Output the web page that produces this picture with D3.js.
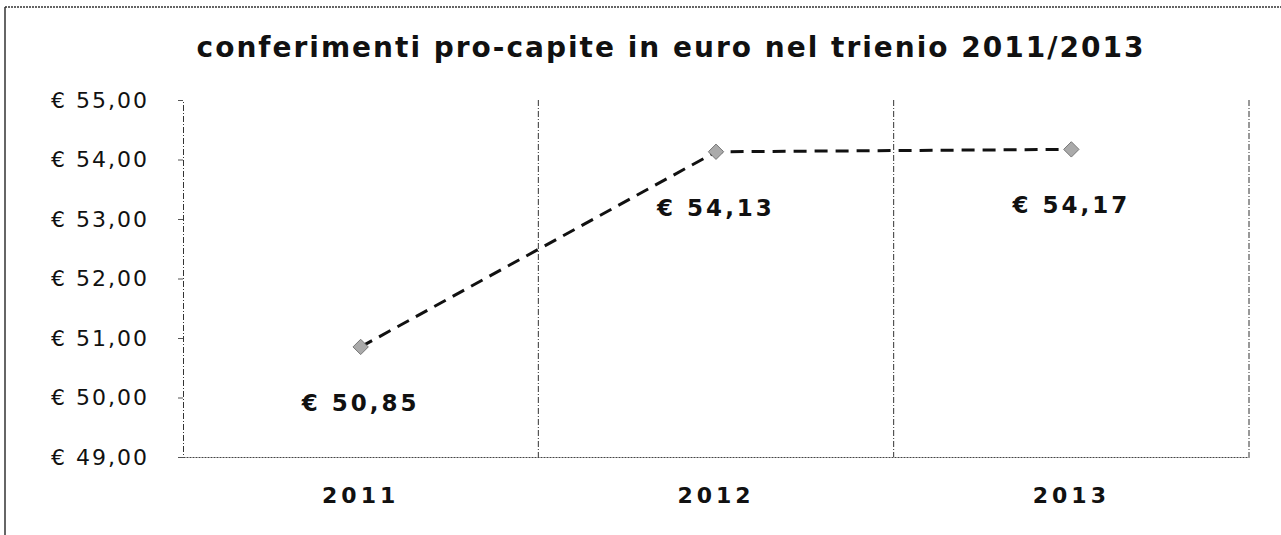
<!DOCTYPE html>
<html>
<head>
<meta charset="utf-8">
<script src="https://cdn.jsdelivr.net/npm/d3@7"></script>
<style>
  body { margin: 0; background: #fff; }
  text { font-family: "DejaVu Sans", Verdana, sans-serif; fill: #111; }
</style>
</head>
<body>
<div id="chart"></div>
<script>
// data
const years = ["2011", "2012", "2013"];
const values = [50.85, 54.13, 54.17];
const yTicks = [49, 50, 51, 52, 53, 54, 55];
const title = "conferimenti pro-capite in euro nel trienio 2011/2013";

const w = 1281, h = 535;
const mLeft = 183, mRight = 1249, mTop = 100, mBottom = 457;

const fmt = v => "€ " + d3.format(".2f")(v).replace(".", ",");

const svg = d3.select("#chart").append("svg")
  .attr("width", w).attr("height", h);

// frame of the scanned chart
svg.append("line").attr("x1", 5).attr("x2", w).attr("y1", 7).attr("y2", 7)
  .attr("stroke", "#333").attr("stroke-width", 1.5).attr("stroke-dasharray", "2,1");
svg.append("line").attr("x1", 5).attr("x2", 5).attr("y1", 7).attr("y2", h)
  .attr("stroke", "#333").attr("stroke-width", 1.5);

// title
svg.append("text")
  .attr("x", 671).attr("y", 57)
  .attr("text-anchor", "middle")
  .style("font-size", "28px")
  .style("font-weight", "bold")
  .style("letter-spacing", "2px")
  .text(title);

// scales
const x = d3.scaleBand().domain(years).range([mLeft, mRight]);
const y = d3.scaleLinear().domain([49, 55]).range([mBottom, mTop]);

// vertical gridlines at category boundaries
svg.append("g").selectAll("line")
  .data(years)
  .join("line")
  .attr("x1", d => x(d) + x.bandwidth())
  .attr("x2", d => x(d) + x.bandwidth())
  .attr("y1", mTop).attr("y2", mBottom)
  .attr("stroke", "#333").attr("stroke-width", 1)
  .attr("stroke-dasharray", "6,2,1,2");

// y axis
const yAxis = svg.append("g")
  .attr("transform", "translate(" + mLeft + ",0)")
  .call(d3.axisLeft(y).tickValues(yTicks).tickFormat(fmt).tickSize(5).tickPadding(29));
yAxis.select(".domain").attr("stroke", "#333").attr("stroke-dasharray", "6,2,1,2");
yAxis.selectAll(".tick line").attr("stroke", "#555");
yAxis.selectAll("text").style("font-size", "22px").style("letter-spacing", "2px");

// x axis
const xAxis = svg.append("g")
  .attr("transform", "translate(0," + mBottom + ")")
  .call(d3.axisBottom(x).tickSize(0).tickPadding(30));
xAxis.select(".domain").attr("stroke", "#444").attr("stroke-dasharray", "2,1");
xAxis.selectAll("text").style("font-size", "22px").style("font-weight", "bold")
  .style("letter-spacing", "4px");

// line
const pts = years.map((d, i) => [x(d) + x.bandwidth() / 2, y(values[i])]);
svg.append("path")
  .datum(pts)
  .attr("d", d3.line())
  .attr("fill", "none")
  .attr("stroke", "#111")
  .attr("stroke-width", 3)
  .attr("stroke-dasharray", "13,8");

// markers
svg.append("g").selectAll("path")
  .data(pts)
  .join("path")
  .attr("transform", d => "translate(" + d[0] + "," + d[1] + ")")
  .attr("d", d3.symbol().type(d3.symbolDiamond2).size(150))
  .attr("fill", "#aaa").attr("stroke", "#777").attr("stroke-width", 1);

// data labels
svg.append("g").selectAll("text")
  .data(pts)
  .join("text")
  .attr("x", d => d[0])
  .attr("y", d => d[1] + 64)
  .attr("text-anchor", "middle")
  .style("font-size", "23px")
  .style("font-weight", "bold")
  .style("letter-spacing", "3px")
  .text((d, i) => fmt(values[i]));
</script>
</body>
</html>
